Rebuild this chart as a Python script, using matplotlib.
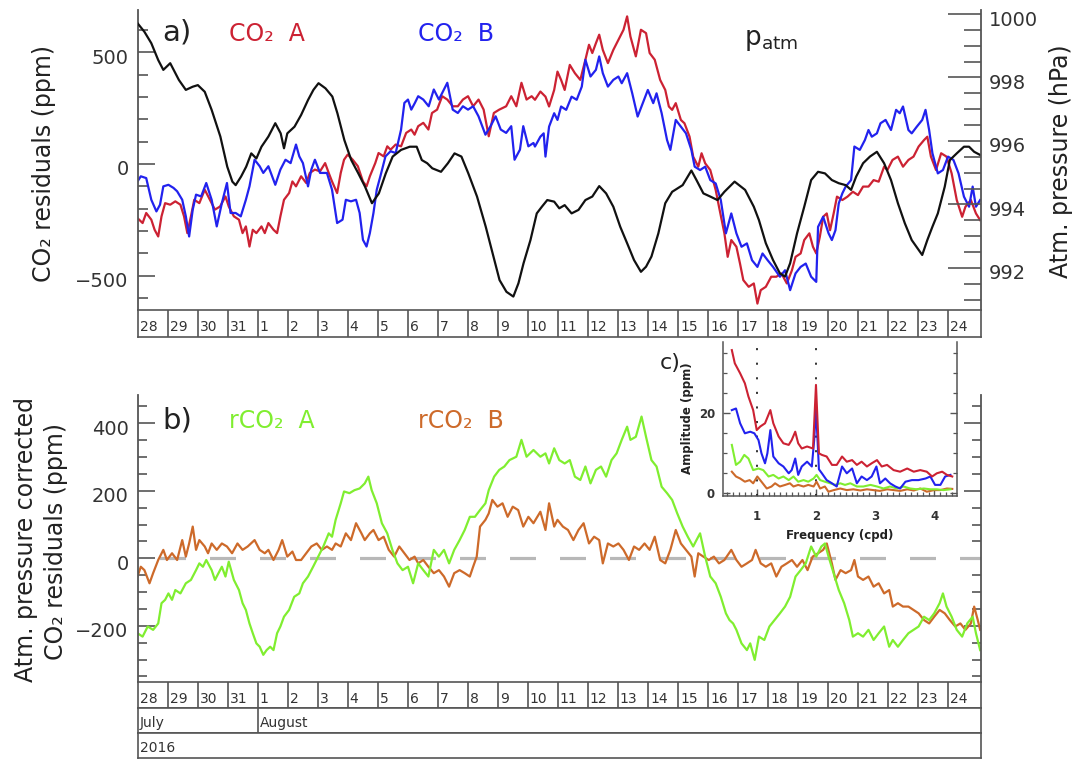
import matplotlib
matplotlib.use("Agg")
import matplotlib.pyplot as plt
import matplotlib.transforms as mtransforms
from matplotlib.ticker import MultipleLocator, FixedLocator, NullLocator

plt.rcParams['font.family'] = ['DejaVu Sans']
plt.rcParams['lines.scale_dashes'] = False

# ---------------- data (time in days since 28 July 2016 00:00) ----------------
t_co2_a = [0, 0.17, 0.29, 0.46, 0.57, 0.69, 0.80, 0.92, 1.09, 1.26,
           1.43, 1.55, 1.66, 1.78, 1.89, 2.06, 2.24, 2.41, 2.58, 2.75,
           2.93, 3.04, 3.21, 3.38, 3.50, 3.61, 3.73, 3.84, 3.96, 4.13,
           4.24, 4.36, 4.53, 4.65, 4.76, 4.88, 5.05, 5.16, 5.28, 5.45,
           5.62, 5.74, 5.91, 6.08, 6.25, 6.37, 6.48, 6.65, 6.77, 6.88,
           7.00, 7.17, 7.34, 7.51, 7.63, 7.74, 7.92, 8.03, 8.20, 8.32,
           8.43, 8.60, 8.78, 8.95, 9.12, 9.23, 9.35, 9.52, 9.69, 9.81,
           9.98, 10.15, 10.32, 10.50, 10.67, 10.84, 11.01, 11.18, 11.36, 11.53,
           11.70, 11.87, 12.05, 12.28, 12.45, 12.62, 12.79, 12.96, 13.13,
           13.24, 13.42, 13.59, 13.71, 13.88, 13.99, 14.11, 14.23, 14.40, 14.57,
           14.75, 14.92, 15.04, 15.15, 15.27, 15.38, 15.50, 15.67, 15.85, 16.02,
           16.19, 16.31, 16.42, 16.60, 16.77, 16.94, 17.06, 17.23, 17.41, 17.58,
           17.70, 17.81, 17.93, 18.10, 18.22, 18.39, 18.51, 18.68, 18.79, 18.91,
           19.08, 19.26, 19.37, 19.55, 19.66, 19.78, 19.95, 20.07, 20.18, 20.36,
           20.53, 20.65, 20.76, 20.93, 21.11, 21.28, 21.45, 21.63, 21.80, 21.92,
           22.09, 22.21, 22.38, 22.50, 22.61, 22.73, 22.84, 22.96, 23.07, 23.19,
           23.30, 23.48, 23.65, 23.83, 24.00, 24.17, 24.35, 24.52, 24.69, 24.87,
           24.98, 25.15, 25.33, 25.50, 25.68, 25.85, 26.02, 26.20, 26.31, 26.43,
           26.60, 26.77, 26.95, 27.12, 27.29, 27.47, 27.58, 27.76, 27.93, 28.07]
co2_a = [-242, -264, -219, -249, -294, -324, -234, -175, -182, -167,
         -182, -234, -309, -234, -160, -175, -115, -160, -204, -190,
         -145, -190, -234, -249, -309, -279, -369, -294, -309, -279,
         -309, -264, -294, -309, -234, -160, -130, -78, -100, -55,
         -85, -40, -25, -33, 4, -40, -78, -130, -40, 19,
         42, 19, -10, -78, -100, -55, 4, 49, 34, 79,
         64, 87, 79, 139, 154, 131, 169, 184, 154, 228,
         243, 303, 288, 258, 258, 288, 303, 258, 288, 243,
         124, 228, 243, 258, 303, 258, 363, 288, 303,
         287, 324, 301, 257, 331, 413, 376, 331, 443, 406,
         376, 466, 533, 496, 540, 578, 510, 451, 510, 555,
         600, 660, 570, 481, 600, 585, 496, 466, 376, 331,
         257, 242, 272, 197, 182, 122, 33, -12, 48, 3,
         -27, -116, -191, -310, -415, -340, -370, -445, -519, -549,
         -534, -624, -564, -549, -504, -504, -489, -534, -475, -415,
         -400, -340, -310, -370, -400, -325, -236, -221, -296, -221,
         -146, -161, -146, -124, -139, -101, -101, -72, -79, -12,
         -27, 18, 33, -12, 18, 33, 78, 107, 122, 33,
         -27, 48, 33, -42, -161, -236, -191, -161, -221, -251]

t_co2_b = [0, 0.11, 0.29, 0.46, 0.63, 0.75, 0.86, 1.03, 1.20, 1.32,
           1.49, 1.61, 1.72, 1.84, 1.95, 2.12, 2.29, 2.47, 2.64, 2.81,
           2.98, 3.10, 3.27, 3.44, 3.61, 3.73, 3.90, 4.07, 4.19, 4.36,
           4.59, 4.76, 4.93, 5.10, 5.28, 5.39, 5.51, 5.68, 5.79, 5.91,
           6.08, 6.31, 6.48, 6.65, 6.83, 6.94, 7.11, 7.28, 7.40, 7.51,
           7.63, 7.74, 7.86, 7.97, 8.09, 8.26, 8.43, 8.60, 8.78, 8.89,
           9.01, 9.12, 9.24, 9.35, 9.52, 9.70, 9.87, 10.04, 10.21, 10.32,
           10.50, 10.67, 10.84, 11.01, 11.18, 11.36, 11.59, 11.76, 11.93, 12.10,
           12.28, 12.45, 12.56, 12.74, 12.85, 13.02, 13.19,
           13.24, 13.42, 13.53, 13.59, 13.71, 13.88, 13.99, 14.11, 14.28, 14.46,
           14.63, 14.80, 14.92, 15.09, 15.27, 15.38, 15.50, 15.67, 15.85, 16.02,
           16.13, 16.31, 16.48, 16.66, 16.83, 17.00, 17.18, 17.29, 17.46, 17.64,
           17.75, 17.93, 18.10, 18.27, 18.45, 18.56, 18.74, 18.91, 19.08, 19.26,
           19.43, 19.60, 19.78, 19.95, 20.12, 20.30, 20.47, 20.65, 20.82, 20.99,
           21.17, 21.40, 21.57, 21.74, 21.92, 22.09, 22.26, 22.44, 22.61, 22.67,
           22.84, 23.02, 23.13, 23.25, 23.36, 23.48, 23.59, 23.77, 23.88, 24.06,
           24.23, 24.35, 24.46, 24.63, 24.75, 24.92, 25.10, 25.27, 25.39, 25.50,
           25.68, 25.79, 25.96, 26.14, 26.25, 26.37, 26.48, 26.66, 26.83, 27.00,
           27.18, 27.35, 27.53, 27.70, 27.82, 27.93, 28.07]
co2_b = [-78, -55, -63, -160, -212, -182, -100, -93, -107, -122,
         -160, -234, -324, -204, -137, -145, -85, -160, -279, -175,
         -85, -219, -219, -234, -160, -100, 19, -10, -40, -10,
         -93, -25, 19, 4, 87, 34, 4, -100, -25, 19,
         -40, -40, -115, -264, -249, -160, -167, -160, -219, -339,
         -369, -309, -219, -115, -55, 34, 57, 49, 154, 273,
         288, 243, 273, 303, 288, 258, 333, 288, 333, 363,
         243, 228, 258, 243, 258, 213, 131, 169, 213, 154,
         139, 169, 19, 64, 169, 79, 94,
         78, 122, 137, 33, 167, 227, 197, 257, 242, 301,
         287, 346, 466, 391, 421, 481, 406, 346, 376, 391,
         361, 406, 316, 212, 272, 331, 272, 316, 227, 107,
         63, 197, 167, 137, 63, -12, -27, -12, -72, -87,
         -161, -310, -221, -310, -370, -355, -430, -460, -400, -430,
         -460, -504, -475, -564, -489, -460, -445, -504, -527, -281,
         -236, -310, -340, -296, -176, -131, -101, -72, 78, 63,
         107, 152, 122, 137, 182, 197, 152, 242, 227, 257,
         152, 137, 167, 197, 242, 152, 48, -42, -27, 33,
         18, -42, -146, -191, -101, -191, -161]

t_patm = [0, 0.23, 0.46, 0.69, 0.86, 1.09, 1.38, 1.61, 1.84, 2.01,
          2.24, 2.47, 2.76, 2.99, 3.16, 3.27, 3.45, 3.62, 3.79, 3.96,
          4.13, 4.36, 4.59, 4.77, 4.88, 4.99, 5.23, 5.45, 5.68, 5.86,
          6.03, 6.26, 6.49, 6.66, 6.89, 7.12, 7.35, 7.58, 7.81, 8.04,
          8.27, 8.50, 8.78, 9.07, 9.30, 9.47, 9.65, 9.82, 10.11, 10.34,
          10.56, 10.79, 11.02, 11.31, 11.60, 11.83, 12.06, 12.29, 12.52, 12.69,
          12.86, 13.09,
          13.30, 13.47, 13.65, 13.88, 14.05, 14.23, 14.46, 14.69, 14.92, 15.15,
          15.38, 15.61, 15.85, 16.08, 16.31, 16.54, 16.77, 16.94, 17.12, 17.35,
          17.58, 17.81, 18.16, 18.45, 18.62, 18.85, 19.08, 19.32, 19.55, 19.89,
          20.24, 20.53, 20.70, 20.93, 21.17, 21.40, 21.57, 21.74, 21.97, 22.21,
          22.44, 22.67, 22.90, 23.13, 23.36, 23.59, 23.77, 23.94, 24.17, 24.40,
          24.63, 24.87, 25.10, 25.33, 25.56, 25.79, 26.14, 26.31, 26.48, 26.66,
          26.89, 27.06, 27.29, 27.53, 27.70, 27.87, 28.07]
patm = [999.71, 999.44, 999.08, 998.55, 998.24, 998.45, 997.92, 997.61, 997.71, 997.76,
        997.55, 996.98, 996.14, 995.19, 994.72, 994.61, 994.88, 995.19, 995.61, 995.45,
        995.82, 996.14, 996.56, 996.24, 995.77, 996.24, 996.45, 996.82, 997.29, 997.61,
        997.82, 997.66, 997.40, 996.87, 996.03, 995.40, 994.99, 994.56, 994.04, 994.35,
        994.98, 995.51, 995.72, 995.82, 995.82, 995.40, 995.30, 995.14, 995.03, 995.30,
        995.61, 995.51, 994.98, 994.25, 993.30, 992.46, 991.62, 991.25, 991.10, 991.52,
        992.15, 992.88,
        993.72, 993.93, 994.14, 994.09, 993.88, 993.98, 993.72, 993.83, 994.14, 994.25,
        994.58, 994.35, 993.93, 993.30, 992.78, 992.25, 991.88, 992.04, 992.36, 993.09,
        994.04, 994.40, 994.61, 995.07, 994.77, 994.35, 994.25, 994.14, 994.40, 994.72,
        994.46, 993.93, 993.51, 992.78, 992.25, 991.83, 991.73, 992.15, 993.09, 993.93,
        994.77, 995.03, 994.98, 994.77, 994.67, 994.61, 994.46, 994.88, 995.30, 995.51,
        995.66, 995.30, 994.77, 994.04, 993.41, 992.88, 992.41, 992.88, 993.30, 993.72,
        994.56, 995.40, 995.61, 995.82, 995.82, 995.66, 995.56]

t_rco2_a = [0, 0.17, 0.34, 0.52, 0.69, 0.80, 0.92, 1.03, 1.15, 1.26,
            1.43, 1.61, 1.78, 1.95, 2.06, 2.18, 2.29, 2.47, 2.58, 2.70,
            2.81, 2.93, 3.04, 3.21, 3.38, 3.50, 3.61, 3.73, 3.84, 3.96,
            4.07, 4.19, 4.30, 4.42, 4.53, 4.65, 4.76, 4.88, 5.05, 5.22,
            5.39, 5.51, 5.68, 5.85, 6.02, 6.19, 6.37, 6.48, 6.60, 6.77,
            6.88, 7.06, 7.23, 7.40, 7.57, 7.69, 7.80, 7.97, 8.14, 8.32,
            8.49, 8.66, 8.83, 9.01, 9.18, 9.35, 9.52, 9.69, 9.87, 10.04,
            10.21, 10.38, 10.55, 10.73, 10.90, 11.07, 11.24, 11.41, 11.59, 11.70,
            11.88, 12.05, 12.22, 12.39, 12.62, 12.79, 12.96, 13.19,
            13.42, 13.59, 13.71, 13.88, 14.05, 14.23, 14.40, 14.57, 14.75, 14.92,
            15.09, 15.27, 15.44, 15.61, 15.79, 15.96, 16.13, 16.31, 16.42, 16.60,
            16.79, 16.94, 17.12, 17.29, 17.46, 17.64, 17.81, 17.98, 18.16, 18.33,
            18.51, 18.62, 18.74, 18.91, 19.08, 19.26, 19.43, 19.60, 19.72, 19.84,
            19.95, 20.12, 20.30, 20.41, 20.56, 20.70, 20.88, 21.05, 21.22, 21.40,
            21.57, 21.74, 21.92, 22.09, 22.26, 22.44, 22.61, 22.78, 22.90, 23.02,
            23.19, 23.36, 23.54, 23.71, 23.83, 24.00, 24.17, 24.35, 24.52, 24.69,
            24.87, 25.04, 25.16, 25.33, 25.50, 25.68, 25.85, 26.02, 26.20, 26.37,
            26.54, 26.72, 26.83, 26.95, 27.12, 27.29, 27.47, 27.64, 27.82, 27.93,
            28.07]
rco2_a = [-222, -232, -202, -212, -193, -133, -123, -104, -123, -94,
          -104, -74, -64, -35, -15, -25, -5, -35, -64, -44,
          -25, -54, -10, -64, -94, -133, -153, -193, -222, -252,
          -262, -286, -272, -262, -272, -222, -202, -173, -153, -114,
          -104, -74, -54, -25, 5, 35, 74, 64, 114, 163,
          198, 193, 202, 207, 222, 242, 202, 163, 104, 74,
          25, -15, -35, -25, -74, -15, -35, -54, 25, 5,
          25, -15, 25, 54, 84, 123, 123, 143, 163, 202,
          242, 262, 272, 291, 301, 351, 301, 321,
          301, 311, 281, 326, 291, 281, 291, 242, 232, 272,
          222, 262, 272, 242, 291, 311, 351, 390, 351, 360,
          420, 360, 291, 272, 212, 193, 173, 133, 94, 64,
          35, 54, 74, 5, -54, -74, -114, -163, -183, -193,
          -212, -252, -272, -252, -301, -232, -242, -202, -183, -163,
          -143, -114, -54, -35, -15, 35, 5, 35, 44, 5,
          -44, -94, -133, -183, -232, -222, -232, -212, -242, -222,
          -202, -262, -242, -262, -242, -222, -212, -202, -173, -183,
          -163, -133, -104, -143, -173, -212, -232, -193, -173, -222,
          -272]

t_rco2_b = [0, 0.11, 0.23, 0.40, 0.52, 0.69, 0.86, 0.98, 1.15, 1.32,
            1.49, 1.61, 1.72, 1.84, 1.95, 2.06, 2.24, 2.35, 2.47, 2.64,
            2.81, 2.98, 3.15, 3.33, 3.50, 3.67, 3.90, 4.07, 4.24, 4.36,
            4.53, 4.70, 4.82, 4.99, 5.16, 5.28, 5.45, 5.62, 5.79, 5.97,
            6.14, 6.31, 6.48, 6.60, 6.77, 6.94, 7.11, 7.28, 7.46, 7.57,
            7.74, 7.86, 8.03, 8.20, 8.37, 8.55, 8.72, 8.89, 9.06, 9.23,
            9.35, 9.52, 9.69, 9.87, 10.04, 10.21, 10.38, 10.55, 10.73, 10.90,
            11.07, 11.18, 11.30, 11.41, 11.59, 11.70, 11.82, 11.99, 12.16, 12.33,
            12.50, 12.68, 12.85, 13.02, 13.19,
            13.42, 13.59, 13.71, 13.88, 13.99, 14.17, 14.34, 14.52, 14.69, 14.86,
            15.04, 15.21, 15.38, 15.50, 15.67, 15.85, 16.02, 16.19, 16.37, 16.54,
            16.71, 16.89, 17.06, 17.23, 17.41, 17.58, 17.75, 17.93, 18.10, 18.27,
            18.45, 18.56, 18.68, 18.85, 19.03, 19.20, 19.37, 19.55, 19.78, 19.95,
            20.12, 20.30, 20.47, 20.59, 20.76, 20.93, 21.11, 21.28, 21.45, 21.63,
            21.80, 21.97, 22.15, 22.32, 22.49, 22.67, 22.84, 22.96, 23.13, 23.25,
            23.42, 23.59, 23.77, 23.88, 24.00, 24.17, 24.35, 24.52, 24.69, 24.87,
            25.04, 25.16, 25.33, 25.50, 25.68, 25.85, 26.02, 26.20, 26.37, 26.54,
            26.72, 26.89, 27.06, 27.24, 27.41, 27.58, 27.76, 27.87, 27.99, 28.07]
rco2_b = [-54, -25, -35, -74, -44, -5, 25, -5, 15, -5,
          54, 5, 44, 94, 25, 54, 35, 15, 44, 25,
          44, 35, 15, 44, 25, 35, 54, 25, 15, 25,
          -5, 25, 54, 5, 20, -5, -5, 15, 35, 44,
          25, 35, 25, 44, 35, 74, 54, 104, 74, 54,
          74, 84, 54, 64, 25, 5, 35, 15, -5, 5,
          -15, -5, -25, -44, -35, -54, -84, -44, -35, -44,
          -54, -25, 5, 94, 114, 133, 173, 153, 163, 123,
          153, 143, 94, 123, 104,
          138, 84, 163, 94, 114, 94, 84, 54, 84, 104,
          44, 64, 54, -15, 44, 35, 44, 25, -5, 35,
          25, 44, 25, 64, -5, -15, 25, 84, 44, 25,
          5, -54, 15, 5, -5, 5, -15, -5, 25, -5,
          -25, -15, -5, 25, -15, -25, -15, -54, -25, -15,
          -5, -25, -5, -35, 5, 15, 25, 44, -15, -64,
          -35, -44, -35, -5, -54, -64, -54, -84, -74, -104,
          -94, -143, -133, -143, -143, -153, -163, -183, -193, -173,
          -153, -163, -183, -202, -193, -212, -193, -143, -183, -212]

# amplitude spectra (inset c)
f_a = [0.58, 0.63, 0.72, 0.80, 0.86, 0.94, 1.00, 1.06, 1.14, 1.23,
       1.28, 1.37, 1.45, 1.54, 1.59, 1.65, 1.70, 1.76, 1.85, 1.95,
       2.00, 2.05, 2.10, 2.18, 2.27, 2.35, 2.44, 2.52, 2.61, 2.69,
       2.77, 2.86, 2.94, 3.03, 3.11, 3.20, 3.31, 3.42, 3.54, 3.65,
       3.76, 3.87, 3.96, 4.04, 4.13, 4.21, 4.30]
amp_a = [35.8, 32.5, 30.0, 27.5, 24.2, 20.8, 15.8, 16.7, 17.5, 20.8,
         17.5, 14.2, 12.5, 12.1, 13.3, 15.4, 12.5, 11.2, 11.7, 11.2,
         27.1, 10.0, 9.6, 9.2, 7.1, 7.1, 9.2, 7.9, 8.3, 7.1,
         7.9, 6.7, 7.5, 8.3, 6.7, 7.1, 5.8, 5.4, 6.2, 5.4,
         5.8, 5.4, 4.2, 5.0, 5.4, 4.6, 4.2]
f_b = [0.58, 0.65, 0.72, 0.80, 0.89, 0.96, 1.03, 1.08, 1.14, 1.18,
       1.23, 1.28, 1.37, 1.45, 1.54, 1.59, 1.65, 1.70, 1.76, 1.85,
       1.93, 1.97, 2.00, 2.05, 2.10, 2.18, 2.27, 2.35, 2.44, 2.52,
       2.61, 2.69, 2.77, 2.86, 2.94, 3.02, 3.08, 3.17, 3.25, 3.34,
       3.42, 3.51, 3.62, 3.73, 3.85, 3.93, 4.01, 4.10, 4.18, 4.27]
amp_b = [20.8, 21.2, 17.5, 15.0, 15.4, 15.0, 13.3, 10.0, 7.5, 10.0,
         15.8, 9.2, 7.5, 6.7, 5.0, 5.8, 8.7, 4.6, 6.7, 7.9,
         6.7, 13.3, 21.5, 6.0, 5.0, 3.3, 2.5, 1.7, 6.7, 5.0,
         6.2, 2.5, 4.2, 3.3, 4.2, 6.7, 2.5, 3.7, 2.5, 1.7,
         1.2, 2.9, 3.3, 3.3, 3.7, 4.2, 2.1, 2.1, 4.2, 4.6]
f_ra = [0.58, 0.65, 0.72, 0.79, 0.86, 0.94, 1.03, 1.11, 1.20, 1.28,
        1.37, 1.45, 1.54, 1.62, 1.70, 1.79, 1.87, 1.96, 2.01, 2.07,
        2.15, 2.24, 2.32, 2.41, 2.49, 2.58, 2.69, 2.80, 2.92, 3.03,
        3.14, 3.25, 3.37, 3.48, 3.59, 3.70, 3.82, 3.93, 4.04, 4.15,
        4.27]
amp_ra = [12.1, 7.1, 7.9, 9.6, 8.7, 5.8, 6.2, 5.8, 4.2, 4.6,
          3.7, 4.2, 3.3, 4.2, 2.9, 3.3, 2.9, 3.7, 4.6, 3.3,
          2.9, 2.5, 2.1, 2.5, 2.1, 2.5, 1.7, 1.7, 2.1, 1.7,
          1.2, 1.7, 1.2, 1.7, 1.2, 1.0, 1.2, 1.0, 1.0, 0.8,
          1.0]
f_rb = [0.58, 0.65, 0.72, 0.80, 0.88, 0.94, 1.01, 1.08, 1.17, 1.25,
        1.31, 1.39, 1.48, 1.56, 1.62, 1.70, 1.79, 1.87, 1.96, 2.01,
        2.07, 2.15, 2.21, 2.30, 2.41, 2.52, 2.63, 2.75, 2.86, 2.97,
        3.08, 3.20, 3.31, 3.42, 3.54, 3.65, 3.76, 3.87, 3.99, 4.10,
        4.21, 4.30]
amp_rb = [5.4, 4.2, 3.7, 2.9, 3.3, 2.5, 4.2, 2.9, 1.2, 1.7,
          2.5, 1.7, 2.1, 2.5, 1.7, 2.1, 1.7, 2.1, 1.7, 2.9,
          1.2, 1.7, 0.4, 0.8, 1.2, 0.8, 1.0, 0.7, 1.0, 0.8,
          0.6, 1.0, 0.8, 0.6, 1.0, 0.7, 1.2, 0.4, 0.8, 0.8,
          1.2, 1.1]

day_labels = ['28', '29', '30', '31'] + [str(i) for i in range(1, 25)]
month_labels = ['July', 'August']
month_starts = [0, 4]
year_label = '2016'
co2_ticks = [-500, 0, 500]
co2_ticklabels = ['\u2212500', '0', '500']
p_ticks = [992, 994, 996, 998, 1000]
p_ticklabels = ['992', '994', '996', '998', '1000']
r_ticks = [-200, 0, 200, 400]
r_ticklabels = ['\u2212200', '0', '200', '400']

# ---------------- layout ----------------
W, H = 1075, 759
fig = plt.figure(figsize=(W / 100, H / 100), dpi=100)
fig.patch.set_facecolor('white')


def box(x0, y0, x1, y1):
    return [x0 / W, 1 - y1 / H, (x1 - x0) / W, (y1 - y0) / H]


def ftext(x, y, s, **kw):
    return fig.text(x / W, 1 - y / H, s, **kw)


SPINE = '#555555'
TXT = '#333333'
LAB = '#222222'
C_RED = '#cc2233'
C_BLUE = '#2222ee'
C_BLACK = '#111111'
C_GREEN = '#80ee30'
C_ORANGE = '#cd6a2a'
XL, XR = 137.5, 980.5
D0, D1 = 0.0, (XR - XL) / 30.02


def style(ax, lw=1.3):
    for s in ax.spines.values():
        s.set_color(SPINE)
        s.set_linewidth(lw)


def ylabels(ax, vals, labels, side, dy_px=-6, pad_px=9, size=14):
    trans = mtransforms.blended_transform_factory(ax.transAxes, ax.transData)
    sx = -pad_px if side == 'left' else pad_px
    off = mtransforms.ScaledTranslation(sx / 100, dy_px / 100, fig.dpi_scale_trans)
    for v, s in zip(vals, labels):
        ax.text(0 if side == 'left' else 1, v, s, transform=trans + off,
                ha='right' if side == 'left' else 'left', va='center',
                fontsize=size, color=TXT, clip_on=False)


def strip(y0, y1):
    ax = fig.add_axes(box(XL, y0, XR, y1))
    ax.set_xlim(D0, D1)
    ax.set_ylim(0, 1)
    ax.set_xticks([])
    ax.set_yticks([])
    style(ax, 1.2)
    return ax


def day_strip(y0, y1):
    ax = strip(y0, y1)
    days = list(range(len(day_labels)))
    ax.vlines(days[1:], 0, 1, color=SPINE, lw=1.2)
    for d, s in zip(days, day_labels):
        ax.text(d + 0.07, 0.1, s, fontsize=10, color=TXT, ha='left', va='bottom')
    return ax


# ---- panel a ----
axA = fig.add_axes(box(XL, 10, XR, 310))
style(axA)
axA.spines['top'].set_visible(False)
axA.spines['bottom'].set_visible(False)
axA.spines['right'].set_visible(False)
axA.set_xlim(D0, D1)
axA.set_ylim(-652.7, 688.4)
axA.xaxis.set_major_locator(NullLocator())
axA.yaxis.set_major_locator(FixedLocator(co2_ticks))
axA.yaxis.set_minor_locator(MultipleLocator(100))
axA.tick_params(axis='y', which='major', direction='in', length=12, width=1.2,
                color=SPINE, labelleft=False)
axA.tick_params(axis='y', which='minor', direction='in', length=7, width=1.2, color=SPINE)
axA.plot(t_co2_a, co2_a, color=C_RED, lw=1.6)
axA.plot(t_co2_b, co2_b, color=C_BLUE, lw=1.6)
ylabels(axA, co2_ticks, co2_ticklabels, 'left')

axP = axA.twinx()
style(axP)
for s in ['top', 'bottom', 'left']:
    axP.spines[s].set_visible(False)
axP.set_xlim(D0, D1)
axP.set_ylim(990.677, 1000.126)
axP.yaxis.set_major_locator(FixedLocator(p_ticks))
axP.yaxis.set_minor_locator(MultipleLocator(0.5))
axP.tick_params(axis='y', which='major', direction='in', length=24, width=1.2,
                color=SPINE, labelright=False)
axP.tick_params(axis='y', which='minor', direction='in', length=12, width=1.2, color=SPINE)
axP.plot(t_patm, patm, color=C_BLACK, lw=1.6)
ylabels(axP, p_ticks, p_ticklabels, 'right', dy_px=-6, pad_px=8)

day_strip(310, 336.7)

ftext(162, 32, 'a)', fontsize=21, color=LAB, ha='left', va='center')
ftext(229, 34, 'CO\u2082  A', fontsize=17, color=C_RED, ha='left', va='center')
ftext(418, 34, 'CO\u2082  B', fontsize=17, color=C_BLUE, ha='left', va='center')
ftext(744, 40, r'$\mathrm{p}_{\mathrm{atm}}$', fontsize=19, color=LAB, ha='left', va='center')
ftext(44, 163, 'CO\u2082 residuals (ppm)', fontsize=17, color=LAB, rotation=90,
      ha='center', va='center')
ftext(1061, 161, 'Atm. pressure (hPa)', fontsize=17, color=LAB, rotation=90,
      ha='center', va='center')

# ---- panel b ----
axB = fig.add_axes(box(XL, 395, XR, 681.7))
style(axB)
axB.spines['top'].set_visible(False)
axB.spines['bottom'].set_visible(False)
axB.set_xlim(D0, D1)
axB.set_ylim(-365.6, 483.9)
axB.xaxis.set_major_locator(NullLocator())
axB.yaxis.set_major_locator(FixedLocator(r_ticks))
axB.yaxis.set_minor_locator(MultipleLocator(50))
axB.tick_params(axis='y', which='major', direction='in', length=12.5, width=1.2,
                color=SPINE, left=True, right=True, labelleft=False)
axB.tick_params(axis='y', which='minor', direction='in', length=6.5, width=1.2,
                color=SPINE, left=True, right=True)
axB.axhline(0, color='#b8b8b8', lw=2.3, linestyle=(20.5, (18.7, 17.3)))
axB.plot(t_rco2_b, rco2_b, color=C_ORANGE, lw=1.6)
axB.plot(t_rco2_a, rco2_a, color=C_GREEN, lw=1.6)
ylabels(axB, r_ticks, r_ticklabels, 'left')

day_strip(681.7, 708.3)
axM = strip(708.3, 733.3)
axM.vlines(month_starts[1:], 0, 1, color=SPINE, lw=1.2)
for d, s in zip(month_starts, month_labels):
    axM.text(d + 0.07, 0.12, s, fontsize=10, color=TXT, ha='left', va='bottom')
axY = strip(733.3, 758.2)
axY.text(0.07, 0.12, year_label, fontsize=10, color=TXT, ha='left', va='bottom')

ftext(162, 420, 'b)', fontsize=21, color=LAB, ha='left', va='center')
ftext(229, 421, 'rCO\u2082  A', fontsize=17, color=C_GREEN, ha='left', va='center')
ftext(418, 421, 'rCO\u2082  B', fontsize=17, color=C_ORANGE, ha='left', va='center')
ftext(26, 540, 'Atm. pressure corrected', fontsize=17, color=LAB, rotation=90,
      ha='center', va='center')
ftext(56, 542, 'CO\u2082 residuals (ppm)', fontsize=17, color=LAB, rotation=90,
      ha='center', va='center')

# ---- inset c ----
axC = fig.add_axes(box(723.3, 341.7, 956.7, 495.7))
style(axC, 1.1)
axC.spines['top'].set_visible(False)
axC.set_xlim(0.436, 4.375)
axC.set_ylim(-0.6, 37.9)
axC.set_xticks([1, 2, 3, 4], labels=['1', '2', '3', '4'], fontsize=8.5, fontweight='bold')
axC.set_yticks([0, 20], labels=['0', '20'], fontsize=8.5, fontweight='bold')
axC.xaxis.set_minor_locator(MultipleLocator(0.1))
axC.yaxis.set_minor_locator(MultipleLocator(5))
axC.tick_params(axis='x', which='major', direction='in', length=5, width=1.0,
                color=SPINE, labelcolor=TXT, pad=10)
axC.tick_params(axis='x', which='minor', direction='in', length=3, width=0.9, color=SPINE)
axC.tick_params(axis='y', which='major', direction='in', length=5, width=1.0,
                color=SPINE, labelcolor=TXT, pad=6, left=True, right=True)
axC.tick_params(axis='y', which='minor', direction='in', length=3, width=0.9,
                color=SPINE, left=True, right=True)
axC.axvline(1, color='#222222', lw=1.3, linestyle=(0, (1.5, 9)))
axC.axvline(2, color='#222222', lw=1.3, linestyle=(0, (1.5, 9)))
axC.plot(f_rb, amp_rb, color=C_ORANGE, lw=1.5)
axC.plot(f_ra, amp_ra, color=C_GREEN, lw=1.5)
axC.plot(f_b, amp_b, color=C_BLUE, lw=1.5)
axC.plot(f_a, amp_a, color=C_RED, lw=1.5)
ftext(660, 363, 'c)', fontsize=16, color=LAB, ha='left', va='center')
ftext(687, 418, 'Amplitude (ppm)', fontsize=8.5, fontweight='bold', color=LAB,
      rotation=90, ha='center', va='center')
ftext(840, 535, 'Frequency (cpd)', fontsize=8.5, fontweight='bold', color=LAB,
      ha='center', va='center')

fig.savefig('out.png', dpi=100, facecolor='white')
